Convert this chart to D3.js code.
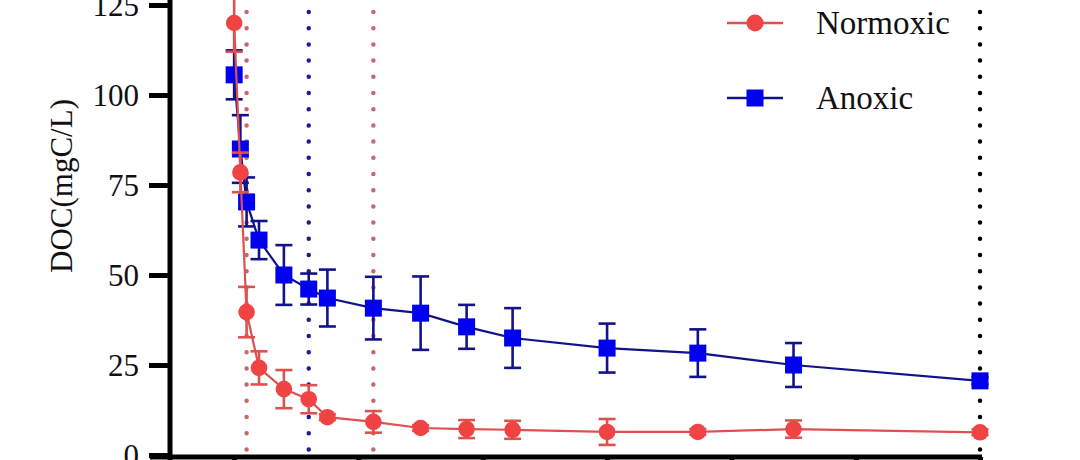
<!DOCTYPE html>
<html>
<head>
<meta charset="utf-8">
<script src="https://cdn.jsdelivr.net/npm/d3@7"></script>
<style>
  body { margin: 0; background: #fff; }
  svg { display: block; font-family: "Liberation Serif", "Times New Roman", serif; }
  .axis path, .axis line { stroke: #000; stroke-width: 5; }
  .axis text { font-size: 31px; fill: #111; font-family: "Liberation Serif", serif; }
</style>
</head>
<body>
<script>
// sampling days (x) and DOC values (mgC/L)
var days = [0, 0.5, 1, 2, 4, 6, 7.5, 11.2, 15, 18.7, 22.4, 30, 37.3, 45, 60];
var normoxic = [120, 78.5, 39.7, 24.2, 18.3, 15.5, 10.5, 9.2, 7.5, 7.2, 7.0, 6.4, 6.4, 7.2, 6.3];
var normoxicErr = [8, 5.5, 7, 4.6, 5.3, 3.9, 0.8, 3, 0.8, 2.5, 2.5, 3.6, 0.8, 2.4, 0.8];
var anoxic = [105.6, 85, 70.3, 59.7, 50, 46.1, 43.6, 40.8, 39.4, 35.6, 32.5, 29.7, 28.3, 25, 20.6];
var anoxicErr = [6.8, 9.4, 6.8, 5.3, 8.3, 4.3, 7.9, 8.7, 10.2, 6.1, 8.3, 6.8, 6.6, 6.1, 1];
var yTicks = [0, 25, 50, 75, 100, 125];
var xTicks = [0, 10, 20, 30, 40, 50, 60];
// dotted reference lines
var refLines = [
  {x: 1, color: "#c46a6a"},
  {x: 6, color: "#1c1c8c"},
  {x: 11.2, color: "#c46a6a"},
  {x: 60, color: "#000"}
];

var width = 1080, height = 460;

var svg = d3.select("body").append("svg")
  .attr("width", width)
  .attr("height", height);

var x = d3.scaleLinear().domain([-5, 60]).range([172, 980]);
var y = d3.scaleLinear().domain([0, 125]).range([455, 5]);

// reference lines
svg.selectAll(".ref")
    .data(refLines)
  .enter().append("line")
    .attr("class", "ref")
    .attr("x1", function(d) { return x(d.x); })
    .attr("x2", function(d) { return x(d.x); })
    .attr("y1", 12)
    .attr("y2", 458)
    .attr("stroke", function(d) { return d.color; })
    .attr("stroke-width", 4.5)
    .attr("stroke-linecap", "round")
    .attr("stroke-dasharray", "0 16.2");

// axes
svg.append("g")
    .attr("class", "x axis")
    .attr("transform", "translate(0,457)")
    .call(d3.axisBottom(x).tickValues(xTicks).tickSize(12).tickSizeOuter(0).tickFormat(""))
    .select(".domain").attr("d", "M150,0H982");

svg.append("g")
    .attr("class", "y axis")
    .attr("transform", "translate(170,0)")
    .call(d3.axisLeft(y).tickValues(yTicks).tickSize(21).tickSizeOuter(0).tickPadding(10))
    .selectAll("text").attr("dy", "0.35em");

svg.select(".y.axis .domain").attr("d", "M0,-10V460");

// y label
svg.append("text")
    .attr("transform", "translate(72,186) rotate(-90)")
    .style("text-anchor", "middle")
    .style("font-size", "31px")
    .attr("fill", "#111")
    .text("DOC(mgC/L)");

function drawSeries(vals, errs, lineColor, markColor, shape) {
  var pts = days.map(function(d, i) { return {x: d, y: vals[i], e: errs[i]}; });
  var g = svg.append("g");

  g.append("path")
      .datum(pts)
      .attr("fill", "none")
      .attr("stroke", lineColor)
      .attr("stroke-width", 2.2)
      .attr("d", d3.line().x(function(d) { return x(d.x); }).y(function(d) { return y(d.y); }));

  var eb = g.selectAll(".err").data(pts).enter().append("g")
      .attr("stroke", lineColor).attr("stroke-width", 2.6);
  eb.append("line")
      .attr("x1", function(d) { return x(d.x); }).attr("x2", function(d) { return x(d.x); })
      .attr("y1", function(d) { return y(d.y + d.e); }).attr("y2", function(d) { return y(d.y - d.e); });
  eb.append("line")
      .attr("x1", function(d) { return x(d.x) - 8.5; }).attr("x2", function(d) { return x(d.x) + 8.5; })
      .attr("y1", function(d) { return y(d.y + d.e); }).attr("y2", function(d) { return y(d.y + d.e); });
  eb.append("line")
      .attr("x1", function(d) { return x(d.x) - 8.5; }).attr("x2", function(d) { return x(d.x) + 8.5; })
      .attr("y1", function(d) { return y(d.y - d.e); }).attr("y2", function(d) { return y(d.y - d.e); });

  if (shape === "circle") {
    g.selectAll(".dot").data(pts).enter().append("circle")
        .attr("cx", function(d) { return x(d.x); })
        .attr("cy", function(d) { return y(d.y); })
        .attr("r", 8.3)
        .attr("fill", markColor);
  } else {
    g.selectAll(".sq").data(pts).enter().append("rect")
        .attr("x", function(d) { return x(d.x) - 8.5; })
        .attr("y", function(d) { return y(d.y) - 8.5; })
        .attr("width", 17).attr("height", 17)
        .attr("fill", markColor);
  }
}

drawSeries(anoxic, anoxicErr, "#12128a", "#0000ee", "square");
drawSeries(normoxic, normoxicErr, "#e05050", "#f04444", "circle");

// legend
var legend = svg.append("g");
var items = [
  {name: "Normoxic", line: "#e05050", mark: "#f04444", shape: "circle", y: 23},
  {name: "Anoxic", line: "#12128a", mark: "#0000ee", shape: "square", y: 98}
];
items.forEach(function(it) {
  legend.append("line")
      .attr("x1", 727).attr("x2", 783).attr("y1", it.y).attr("y2", it.y)
      .attr("stroke", it.line).attr("stroke-width", 2.5);
  if (it.shape === "circle") {
    legend.append("circle").attr("cx", 755).attr("cy", it.y).attr("r", 8.5).attr("fill", it.mark);
  } else {
    legend.append("rect").attr("x", 746.5).attr("y", it.y - 8.5).attr("width", 17).attr("height", 17).attr("fill", it.mark);
  }
  legend.append("text")
      .attr("x", 816).attr("y", it.y + 11)
      .style("font-size", "33px")
      .attr("fill", "#111")
      .text(it.name);
});
</script>
</body>
</html>
